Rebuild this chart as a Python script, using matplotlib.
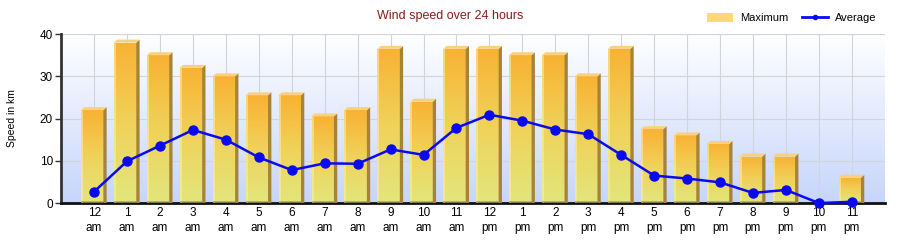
import matplotlib.pyplot as plt
import numpy as np
from matplotlib.colors import LinearSegmentedColormap
from matplotlib.patches import Polygon, Rectangle
from matplotlib.lines import Line2D

plt.rcParams['font.family'] = ['Liberation Sans', 'DejaVu Sans']

hours = ['12\nam', '1\nam', '2\nam', '3\nam', '4\nam', '5\nam', '6\nam', '7\nam',
         '8\nam', '9\nam', '10\nam', '11\nam', '12\npm', '1\npm', '2\npm', '3\npm',
         '4\npm', '5\npm', '6\npm', '7\npm', '8\npm', '9\npm', '10\npm', '11\npm']
maximum = [22, 38, 35, 32, 30, 25.5, 25.5, 20.5, 22, 36.5, 24, 36.5,
           36.5, 35, 35, 30, 36.5, 17.5, 16, 14, 11, 11, 0, 6]
average = [2.7, 9.9, 13.6, 17.3, 15.0, 10.8, 7.8, 9.4, 9.3, 12.7, 11.4, 17.8,
           20.9, 19.5, 17.4, 16.3, 11.4, 6.5, 5.8, 4.9, 2.4, 3.1, 0, 0.3]

fig = plt.figure(figsize=(9, 2.4), dpi=100)
ax = fig.add_axes([0.068, 0.154, 0.915, 0.704])
x = np.arange(len(hours))

ax.set_xlim(-1, 24)
ax.set_ylim(0, 40)

# background gradient
bg = LinearSegmentedColormap.from_list('bg', ['#c6d5fb', '#ffffff'])
ax.imshow(np.linspace(0, 1, 256).reshape(-1, 1), cmap=bg, origin='lower',
          extent=[0, 1, 0, 1], transform=ax.transAxes, aspect='auto', zorder=0)

ax.set_xticks(x)
ax.set_xticklabels(hours, fontsize=8.5, linespacing=1.35)
ax.set_yticks([0, 10, 20, 30, 40])
ax.tick_params(axis='y', labelsize=8.5, length=4, width=1, color='#333333', pad=2)
ax.tick_params(axis='x', length=0, pad=3)
ax.grid(True, color='#d2d4dc', linewidth=0.8, zorder=1)
ax.set_axisbelow(True)

for s in ['top', 'right']:
    ax.spines[s].set_visible(False)
ax.spines['left'].set_color('#333333')
ax.spines['left'].set_linewidth(2)
ax.spines['bottom'].set_color('#111111')
ax.spines['bottom'].set_linewidth(2)

# bars with gradient and 3D side/cap
bar_cm = LinearSegmentedColormap.from_list('bar', ['#e2e67c', '#f0d25a', '#f8b233'])
grad = np.linspace(0, 1, 128).reshape(-1, 1)
w = 0.68
dx, dy = 0.1, 0.7
for xi, h in zip(x, maximum):
    if h <= 0:
        continue
    x0 = xi - 0.4
    x1 = x0 + w
    im = ax.imshow(grad, cmap=bar_cm, origin='lower', aspect='auto',
                   extent=[x0, x1, 0, h], zorder=2)
    rect = Rectangle((x0, 0), w, h, transform=ax.transData)
    im.set_clip_path(rect)
    # left highlight
    ax.add_patch(Rectangle((x0, 0), 0.06, h, facecolor='#fbee9e', alpha=0.6,
                           edgecolor='none', zorder=3))
    # bottom darker strip
    ax.add_patch(Rectangle((x0, 0), w, 0.5, facecolor='#a29a52', alpha=0.7,
                           edgecolor='none', zorder=3))
    # side
    ax.add_patch(Polygon([(x1, 0), (x1 + dx, 0), (x1 + dx, h + dy), (x1, h)],
                         facecolor='#a5833a', edgecolor='none', zorder=3))
    # cap
    ax.add_patch(Polygon([(x0, h), (x0 + dx, h + dy), (x1 + dx, h + dy), (x1, h)],
                         facecolor='#fbd07c', edgecolor='none', zorder=3))

ax.plot(x, average, color='#0a0af0', linewidth=1.8, marker='o', markersize=6.5,
        markerfacecolor='#0a0af0', markeredgecolor='#0a0af0', zorder=5, clip_on=False)

ax.set_ylabel('Speed in km', fontsize=7.5, labelpad=16)
fig.text(0.5, 0.935, 'Wind speed over 24 hours', ha='center', va='center',
         fontsize=9, color='#8b1a1a')

handles = [Rectangle((0, 0), 1, 1, facecolor='#fdd873', edgecolor='none'),
           Line2D([], [], color='#0a0af0', linewidth=2, marker='o', markersize=3)]
fig.legend(handles, ['Maximum', 'Average'], loc='center right',
           bbox_to_anchor=(0.985, 0.925), ncol=2, frameon=False, fontsize=8,
           handlelength=2.4, handleheight=0.9, columnspacing=1.2, handletextpad=0.6)

fig.savefig('out.png', dpi=100)
